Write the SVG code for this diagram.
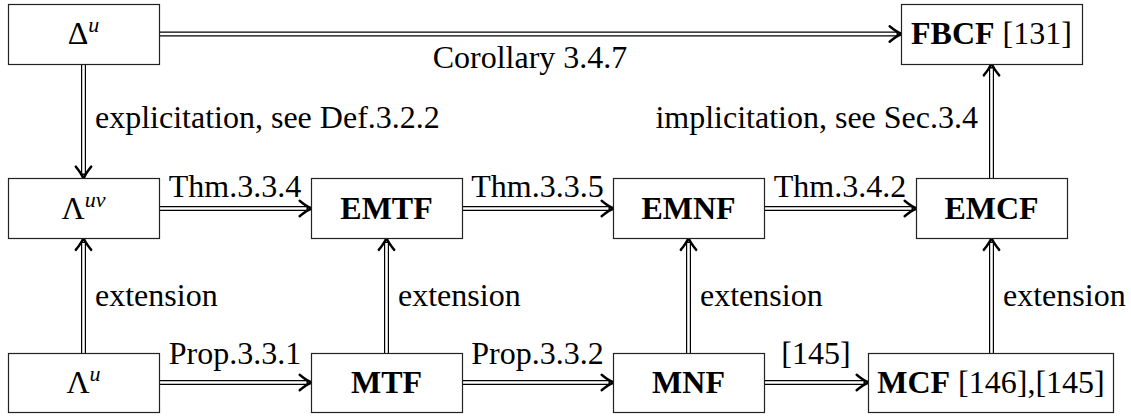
<svg xmlns="http://www.w3.org/2000/svg" width="1131" height="416" viewBox="0 0 1131 416">
<style>
.box{fill:#fff;stroke:#222;stroke-width:1.2}
.t{font-family:"Liberation Serif","Times New Roman",serif;font-size:32px;fill:#000}
.b{font-weight:bold}
.m{font-style:italic;font-size:22px}
.o{fill:none;stroke:#000;stroke-width:5}
.i{fill:none;stroke:#fff;stroke-width:2.6;marker-end:url(#imp)}
</style>
<defs>
<marker id="imp" markerUnits="userSpaceOnUse" orient="auto" refX="-4.5" refY="0" markerWidth="20" markerHeight="20" viewBox="-12 -8 16 16" overflow="visible">
<path d="M-10,-6.2 Q-4,-1.2 0,0 Q-4,1.2 -10,6.2" fill="none" stroke="#000" stroke-width="1.9" stroke-linecap="round"/>
</marker>
</defs>
<g id="connectors">
<path class="o" d="M159,34 H898"/><path class="i" d="M159,34 H896.5"/>
<path class="o" d="M83.5,64 V175"/><path class="i" d="M83.5,64 V173.5"/>
<path class="o" d="M991.5,178 V67"/><path class="i" d="M991.5,178 V68.5"/>
<path class="o" d="M159,208.5 H308"/><path class="i" d="M159,208.5 H306.5"/>
<path class="o" d="M462,208.5 H610"/><path class="i" d="M462,208.5 H608.5"/>
<path class="o" d="M764,208.5 H913"/><path class="i" d="M764,208.5 H911.5"/>
<path class="o" d="M83.5,353 V241.5"/><path class="i" d="M83.5,353 V243"/>
<path class="o" d="M386.5,353 V241.5"/><path class="i" d="M386.5,353 V243"/>
<path class="o" d="M688.5,353 V241.5"/><path class="i" d="M688.5,353 V243"/>
<path class="o" d="M991.5,353 V241.5"/><path class="i" d="M991.5,353 V243"/>
<path class="o" d="M159,382.5 H308"/><path class="i" d="M159,382.5 H306.5"/>
<path class="o" d="M462,382.5 H610"/><path class="i" d="M462,382.5 H608.5"/>
<path class="o" d="M764,382.5 H865"/><path class="i" d="M764,382.5 H863.5"/>
<text class="t" x="530" y="68" text-anchor="middle">Corollary 3.4.7</text>
<text class="t" x="95" y="128">explicitation, see Def.3.2.2</text>
<text class="t" x="978" y="128" text-anchor="end">implicitation, see Sec.3.4</text>
<text class="t" x="235" y="197" text-anchor="middle">Thm.3.3.4</text>
<text class="t" x="537.5" y="197" text-anchor="middle">Thm.3.3.5</text>
<text class="t" x="840" y="197" text-anchor="middle">Thm.3.4.2</text>
<text class="t" x="95" y="306">extension</text>
<text class="t" x="398" y="306">extension</text>
<text class="t" x="700" y="306">extension</text>
<text class="t" x="1003" y="306">extension</text>
<text class="t" x="235" y="364" text-anchor="middle">Prop.3.3.1</text>
<text class="t" x="537.5" y="364" text-anchor="middle">Prop.3.3.2</text>
<text class="t" x="816" y="364" text-anchor="middle">[145]</text>
</g>
<g id="n-delta-u"><rect class="box" x="8.5" y="4.5" width="151" height="60"/><text class="t" x="83.5" y="44" text-anchor="middle">Δ<tspan class="m" dy="-12">u</tspan></text></g>
<g id="n-fbcf"><rect class="box" x="901.5" y="4.5" width="181" height="60"/><text class="t" x="991.5" y="44" text-anchor="middle"><tspan class="b">FBCF</tspan> [131]</text></g>
<g id="n-lambda-uv"><rect class="box" x="8.5" y="178.5" width="151" height="60"/><text class="t" x="83.5" y="219" text-anchor="middle">Λ<tspan class="m" dy="-12">uv</tspan></text></g>
<g id="n-emtf"><rect class="box" x="311.5" y="178.5" width="151" height="60"/><text class="t b" x="386.5" y="219" text-anchor="middle">EMTF</text></g>
<g id="n-emnf"><rect class="box" x="613.5" y="178.5" width="151" height="60"/><text class="t b" x="688.5" y="219" text-anchor="middle">EMNF</text></g>
<g id="n-emcf"><rect class="box" x="916.5" y="178.5" width="151" height="60"/><text class="t b" x="991.5" y="219" text-anchor="middle">EMCF</text></g>
<g id="n-lambda-u"><rect class="box" x="8.5" y="353.5" width="151" height="59"/><text class="t" x="83.5" y="393" text-anchor="middle">Λ<tspan class="m" dy="-12">u</tspan></text></g>
<g id="n-mtf"><rect class="box" x="311.5" y="353.5" width="151" height="59"/><text class="t b" x="386.5" y="393" text-anchor="middle">MTF</text></g>
<g id="n-mnf"><rect class="box" x="613.5" y="353.5" width="151" height="59"/><text class="t b" x="688.5" y="393" text-anchor="middle">MNF</text></g>
<g id="n-mcf"><rect class="box" x="868.5" y="353.5" width="245" height="59"/><text class="t" x="991" y="393" text-anchor="middle"><tspan class="b">MCF</tspan> [146],[145]</text></g>
</svg>
